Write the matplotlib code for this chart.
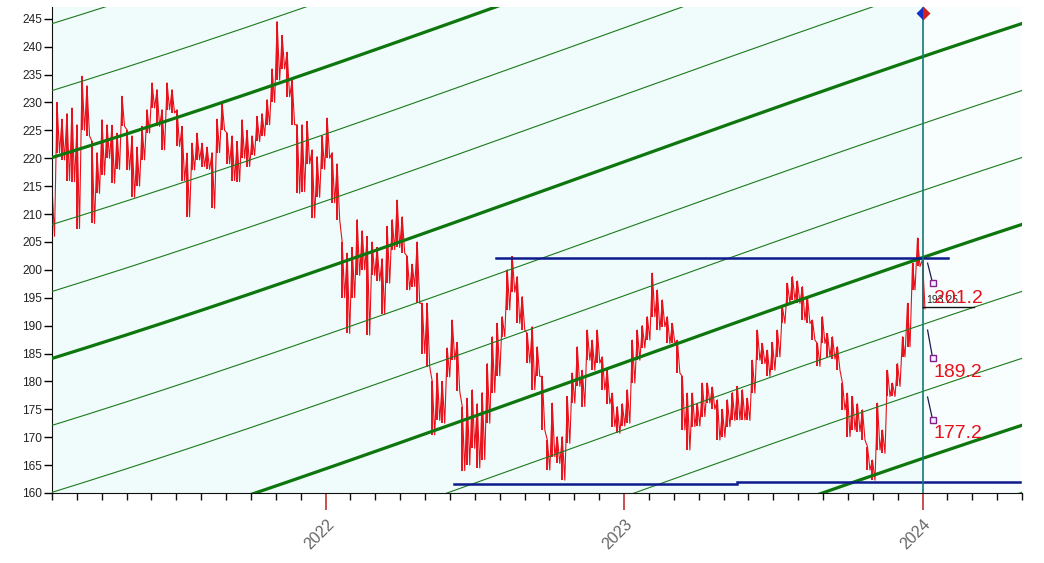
import numpy as np
import matplotlib.pyplot as plt
from matplotlib.transforms import ScaledTranslation

plt.rcParams['font.family'] = ['Liberation Sans', 'DejaVu Sans']

# weekly-ish price bars (high / low), Feb 2021 -> Jan 2024
highs = [214.9, 230.0, 227.0, 228.0, 229.0, 226.0, 234.7, 233.0, 223.0, 221.0,
         226.9, 226.0, 225.9, 224.5, 231.1, 225.1, 224.0, 222.0, 225.7, 228.7,
         233.5, 232.3, 228.7, 233.5, 232.3, 228.7, 225.7, 220.9, 222.7, 224.5,
         222.7, 222.0, 221.0, 227.0, 229.9, 224.5, 224.0, 223.0, 226.9, 225.0,
         224.0, 227.5, 228.0, 230.5, 236.0, 244.5, 242.0, 239.0, 234.0, 226.0,
         226.0, 226.6, 221.5, 220.3, 224.0, 227.2, 221.0, 219.0, 205.0, 203.0,
         204.0, 209.0, 207.0, 206.0, 205.0, 204.0, 202.0, 207.8, 209.0, 212.5,
         209.5, 202.4, 201.0, 205.0, 194.0, 194.0, 180.0, 181.5, 180.0, 186.0,
         191.0, 187.0, 175.5, 177.0, 178.5, 176.0, 178.0, 183.2, 188.0, 190.4,
         191.6, 200.0, 202.4, 198.8, 195.2, 188.6, 189.8, 186.2, 180.9, 169.5,
         176.1, 170.1, 170.1, 177.3, 181.5, 186.2, 182.0, 189.2, 187.4, 189.2,
         184.4, 182.0, 177.9, 175.5, 176.0, 178.5, 187.4, 189.2, 190.0, 191.6,
         199.4, 196.4, 194.6, 191.6, 190.4, 187.4, 180.9, 177.9, 177.9, 176.0,
         179.7, 179.7, 179.0, 176.7, 175.0, 176.7, 178.0, 179.1, 178.5, 177.0,
         183.8, 189.2, 186.8, 185.6, 187.0, 189.2, 193.4, 197.6, 198.8, 198.0,
         197.0, 195.2, 191.0, 186.8, 191.6, 188.6, 188.0, 186.2, 179.7, 177.9,
         177.3, 176.0, 174.9, 168.3, 165.9, 176.1, 171.3, 182.0, 179.7, 183.2,
         188.0, 194.0, 201.2, 205.7, 201.8]
lows = [206.0, 221.0, 219.7, 216.0, 215.8, 207.4, 225.0, 224.0, 208.3, 213.7,
        217.0, 220.0, 215.5, 218.0, 225.7, 217.9, 213.0, 215.0, 219.7, 224.5,
        229.0, 225.7, 221.5, 228.7, 228.1, 222.1, 216.0, 209.5, 217.9, 219.7,
        218.5, 218.0, 211.0, 221.0, 225.0, 219.0, 216.0, 215.8, 220.0, 218.5,
        220.5, 223.0, 224.0, 226.0, 230.0, 234.0, 236.0, 231.0, 226.0, 213.7,
        214.0, 219.0, 209.3, 213.0, 218.0, 220.0, 212.0, 209.0, 195.0, 188.6,
        195.0, 199.0, 200.0, 188.3, 199.0, 198.0, 192.0, 197.6, 203.6, 204.0,
        203.0, 196.4, 197.0, 194.0, 185.0, 182.6, 170.4, 173.0, 172.5, 180.8,
        183.9, 178.2, 164.0, 165.0, 168.0, 164.5, 166.0, 172.5, 178.0, 181.0,
        188.0, 192.8, 196.0, 190.4, 189.2, 183.3, 178.5, 180.9, 171.3, 164.1,
        166.5, 165.3, 162.3, 168.9, 176.1, 179.1, 175.5, 183.8, 182.0, 183.3,
        178.5, 176.0, 171.9, 170.7, 172.0, 172.5, 179.7, 183.8, 186.0, 187.4,
        191.6, 189.2, 189.8, 186.8, 186.8, 181.5, 171.3, 167.7, 171.9, 172.0,
        173.7, 176.1, 175.0, 169.5, 170.0, 171.9, 173.0, 173.1, 173.1, 173.0,
        177.9, 183.8, 183.2, 180.9, 182.0, 184.4, 190.4, 194.0, 194.6, 194.0,
        191.0, 190.4, 187.4, 182.7, 186.8, 184.4, 184.0, 182.0, 174.9, 170.1,
        171.3, 171.0, 169.5, 164.1, 162.3, 167.7, 167.1, 177.3, 177.3, 179.1,
        184.4, 186.2, 196.4, 200.6, 193.0]
first_bar = 2021 + 1 / 12
last_bar = 2024.0

# curved channel lines: common shape + level of each line at the left edge
curve_x = [2021.083, 2021.581, 2021.916, 2022.251, 2022.586, 2023.089, 2023.591, 2024.0, 2024.335]
curve_shift = [0.0, 8.4, 13.9, 20.4, 27.7, 37.7, 45.8, 53.0, 60.5]
channel_levels = [100.3, 112.3, 124.3, 136.3, 148.3, 160.3, 172.3, 184.3, 196.3, 208.3, 220.3, 232.3, 244.3]
thick_levels = [112.3, 148.3, 184.3, 220.3]

# horizontal range lines
top_line = (2022.57, 2024.087, 202.2)
bottom_lines = [(2022.429, 2023.38, 161.7), (2023.38, 2024.328, 161.9)]

# projections at the 2024 cursor
targets = [201.2, 189.2, 177.2]
target_marks = [197.6, 184.15, 173.1]
label_levels = [194.1, 180.8, 169.9]
last_close = 193.25

fig = plt.figure(figsize=(10.44, 5.63), dpi=100)
ax = fig.add_axes([52 / 1044, 70 / 563, 970 / 1044, 486 / 563])
ax.set_facecolor('#f0fcfb')
ax.set_xlim(2021 + 1 / 12, 2024 + 4 / 12)
ax.set_ylim(160, 247.1)
ax.axvspan(2024.0, 2024 + 4 / 12, color='#f8fefe', zorder=0)

# price bars
n = len(highs)
t = np.linspace(first_bar, last_bar, n)
half = (t[1] - t[0]) / 2
ax.vlines(t, lows, highs, color='#e8101a', lw=1.4, zorder=2)
zx = np.column_stack([t, t + half]).ravel()
zy = np.column_stack([highs, lows]).ravel()
ax.plot(zx, zy, color='#e8101a', lw=0.8, zorder=2)

# channel (smooth curve through the read shape)
coef = np.polyfit(curve_x, curve_shift, 3)
cx = np.linspace(curve_x[0], curve_x[-1], 200)
cs = np.polyval(coef, cx)
for lvl in channel_levels:
    thick = lvl in thick_levels
    ax.plot(cx, lvl + cs, color='#0d760d' if thick else '#1c7a1c',
            lw=2.3 if thick else 0.8, zorder=3, solid_capstyle='butt')

# range lines
ax.plot(top_line[:2], [top_line[2]] * 2, color='#0c1a8c', lw=1.8, zorder=4)
for x0, x1, lvl in bottom_lines:
    ax.plot([x0, x1], [lvl, lvl], color='#0c1a8c', lw=1.8, zorder=4)

# cursor
ax.axvline(2024.0, color='#137a7a', lw=1.2, zorder=5)
ax.plot([2024.0], [246.1], marker='D', markersize=7, fillstyle='left',
        markerfacecolor='#1030c8', markerfacecoloralt='#d02020',
        markeredgecolor='none', zorder=6, clip_on=False)

ax.plot([2024.0, 2024.171], [last_close, last_close], color='#111111', lw=1.0, zorder=5)
ax.text(2024.013, label_levels[0], f'{last_close:.2f}', fontsize=7.5, color='#222222',
        ha='left', va='baseline', zorder=6)
for lvl, mark, lab in zip(targets, target_marks, label_levels):
    ax.plot([2024.017, 2024.034], [lvl, mark], color='#1a1a50', lw=0.9, zorder=6)
    ax.plot([2024.034], [mark], marker='s', markersize=4, markerfacecolor='#f4f0ff',
            markeredgecolor='#80208a', markeredgewidth=1.0, zorder=7)
    ax.text(2024.037, lab, f'{lvl:.1f}', fontsize=14, color='#e8101a',
            ha='left', va='baseline', zorder=8)

# axes styling
for s in ['top', 'right']:
    ax.spines[s].set_visible(False)
ax.spines['left'].set_color('#111111')
ax.spines['bottom'].set_color('#111111')
ax.set_yticks(np.arange(160, 246, 5))
ax.tick_params(axis='y', length=6, width=1, pad=1, labelsize=8.6, labelcolor='#222222')
ax.set_xticks([2022, 2023, 2024])
ax.set_xticklabels(['2022', '2023', '2024'], rotation=45, ha='right', va='center',
                   rotation_mode='anchor', fontsize=11.5, color='#666666')
ax.set_xticks(np.arange(2021 + 1 / 12, 2024.34, 1 / 12), minor=True)
ax.tick_params(axis='x', which='major', length=12, width=1.2, color='#c03030', pad=9)
ax.tick_params(axis='x', which='minor', length=5, width=1, color='#111111')
for lab in ax.get_xticklabels():
    lab.set_transform(lab.get_transform() + ScaledTranslation(0.06, 0, fig.dpi_scale_trans))

fig.savefig('out.png', dpi=100)
